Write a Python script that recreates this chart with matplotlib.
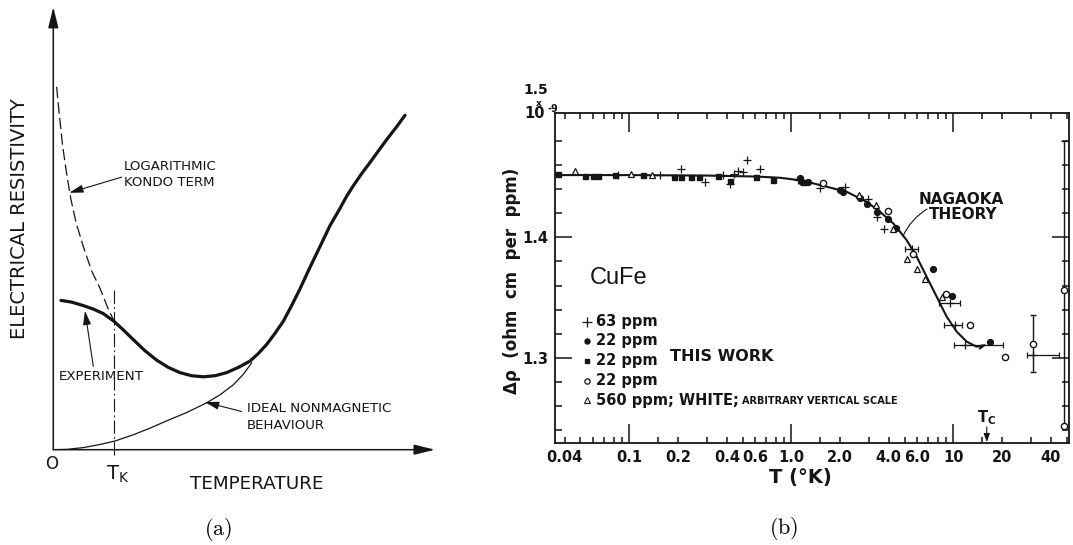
import numpy as np
import matplotlib
matplotlib.use('Agg')
import matplotlib.pyplot as plt

# ---------------- data, panel (a): sketch, arbitrary units ----------------
ideal_x = [0.0, 0.04, 0.09, 0.14, 0.185, 0.24, 0.29, 0.34, 0.40, 0.46, 0.50, 0.54, 0.57, 0.595]
ideal_y = [0.0, 0.001, 0.006, 0.015, 0.025, 0.043, 0.062, 0.083, 0.107, 0.135, 0.158,
           0.187, 0.217, 0.25]

exp_x = [0.023, 0.055, 0.09, 0.12, 0.15, 0.183, 0.21, 0.24, 0.275, 0.31, 0.345, 0.38, 0.415,
         0.45, 0.485, 0.52, 0.555, 0.59, 0.615, 0.64, 0.665, 0.69, 0.715, 0.74, 0.765, 0.79,
         0.81, 0.83, 0.845, 0.86, 0.88, 0.90, 0.925, 0.95, 0.975, 1.00, 1.03, 1.055]
exp_y = [0.43, 0.425, 0.415, 0.405, 0.392, 0.369, 0.345, 0.317, 0.285, 0.258, 0.237, 0.222,
         0.213, 0.21, 0.213, 0.222, 0.237, 0.255, 0.277, 0.303, 0.335, 0.37, 0.415, 0.463,
         0.515, 0.565, 0.605, 0.645, 0.67, 0.695, 0.73, 0.76, 0.795, 0.827, 0.86, 0.893,
         0.93, 0.963]

kondo_x = [0.010, 0.018, 0.028, 0.040, 0.052, 0.068, 0.090, 0.115, 0.140, 0.165, 0.180]
kondo_y = [1.045, 0.965, 0.875, 0.795, 0.725, 0.655, 0.585, 0.515, 0.465, 0.405, 0.375]

tk_x = 0.183

# ---------------- data, panel (b): CuFe resistivity ----------------
theory_T = [0.0348, 0.1, 0.3, 0.6, 0.85, 1.12, 1.37, 2.2, 2.92, 3.53, 4.26, 5.15, 5.94,
            6.85, 7.9, 9.1, 10.5, 12.1, 13.9, 15.6, 14.6]
theory_r = [1.4517, 1.4517, 1.4513, 1.4505, 1.4495, 1.4475, 1.4448, 1.4378, 1.4295, 1.4212,
            1.4116, 1.3978, 1.384, 1.3673, 1.3507, 1.3342, 1.3217, 1.3134, 1.3093, 1.3105, 1.3078]

# 63 ppm (+)
plus_T = [0.085, 0.155, 0.21, 0.294, 0.38, 0.417, 0.44, 0.47, 0.50, 0.532, 0.644, 1.095,
          1.50, 2.14, 2.99, 3.40, 3.75]
plus_r = [1.4515, 1.4517, 1.457, 1.4456, 1.4515, 1.444, 1.453, 1.455, 1.454, 1.464, 1.457,
          1.448, 1.4406, 1.442, 1.4315, 1.4166, 1.4066]
# 63 ppm with temperature error bars
plusbar_T = [5.54, 9.55, 10.2, 11.8, 31.0]
plusbar_r = [1.3905, 1.3453, 1.3273, 1.3107, 1.3024]
plusbar_lo = [5.0, 8.2, 8.77, 10.1, 28.4]
plusbar_hi = [6.05, 11.0, 11.27, 20.4, 45.1]

# 22 ppm (filled circles)
dot_T = [1.13, 1.16, 1.27, 2.0, 2.09, 2.66, 2.94, 3.37, 3.97, 4.41, 7.46, 9.86, 16.9]
dot_r = [1.449, 1.446, 1.446, 1.4392, 1.4378, 1.4328, 1.4276, 1.4212, 1.4149, 1.408,
         1.3737, 1.3513, 1.3129]

# 22 ppm (filled squares)
sq_T = [0.0363, 0.0535, 0.060, 0.064, 0.0816, 0.121, 0.190, 0.210, 0.239, 0.269, 0.351,
        0.417, 0.605, 0.768, 1.20]
sq_r = [1.453, 1.451, 1.451, 1.451, 1.4517, 1.4517, 1.4504, 1.4504, 1.4504, 1.4504, 1.4508,
        1.4467, 1.4503, 1.448, 1.446]

# 22 ppm (open circles)
oc_T = [1.58, 3.97, 5.66, 8.97, 12.6, 20.9, 31.2, 48.5, 48.5]
oc_r = [1.4448, 1.4218, 1.3859, 1.353, 1.3273, 1.3005, 1.3113, 1.3563, 1.243]
ocbar_T = [31.2, 48.5]
ocbar_r = [1.3113, 1.3563]
ocbar_lo = [1.2886, 1.243]
ocbar_hi = [1.3356, 1.48]

# 560 ppm, White (triangles)
tri_T = [0.0464, 0.1026, 0.138, 2.63, 3.33, 4.23, 5.2, 5.94, 6.69, 8.55]
tri_r = [1.455, 1.4525, 1.4517, 1.4351, 1.4268, 1.4066, 1.3818, 1.3737, 1.3652, 1.3507]

tc_T = 16.1

xmajor = [0.1, 1.0, 10.0]
xmajor_labels = ['0.1', '1.0', '10']
xminor = [0.04, 0.05, 0.06, 0.07, 0.08, 0.09, 0.15, 0.2, 0.3, 0.4, 0.5, 0.6, 0.7, 0.8, 0.9,
          1.5, 2, 3, 4, 5, 6, 7, 8, 9, 15, 20, 30, 40, 50]
xminor_labels = {0.04: '0.04', 0.2: '0.2', 0.4: '0.4', 0.6: '0.6', 2: '2.0', 4: '4.0',
                 6: '6.0', 20: '20', 40: '40'}
ymajor = [1.3, 1.4]
yminor = [1.24, 1.26, 1.28, 1.32, 1.34, 1.36, 1.38, 1.42, 1.44, 1.46, 1.48]

ink = '#151515'
W, H = 1073, 545

fig = plt.figure(figsize=(W / 100, H / 100), dpi=100)

# ====================== panel (a) ======================
# origin at (53.3, 449.7) px; 1 unit = 333 px across, 347 px up
axa = fig.add_axes([53.3 / W, (H - 449.7) / H, 400 / W, 451.4 / H])
axa.set_xlim(0, 1.2)
axa.set_ylim(0, 1.3)
axa.axis('off')

arrow = dict(arrowstyle='-|>,head_length=0.9,head_width=0.22', lw=1.1, color=ink,
             shrinkA=0, shrinkB=0, mutation_scale=14)
axa.annotate('', xy=(1.145, 0), xytext=(0, 0), arrowprops=arrow, annotation_clip=False)
axa.annotate('', xy=(0, 1.275), xytext=(0, 0), arrowprops=arrow, annotation_clip=False)

axa.plot(ideal_x, ideal_y, color=ink, lw=0.9)
axa.plot(exp_x, exp_y, color=ink, lw=2.3, solid_capstyle='round', solid_joinstyle='round')
axa.plot(kondo_x, kondo_y, color=ink, lw=0.9, linestyle=(0, (9, 3.5)))
axa.plot([tk_x, tk_x], [-0.015, 0.46], color=ink, lw=0.8, linestyle=(0, (12, 3, 1.5, 3)),
         clip_on=False)

small = dict(color=ink, fontsize=9.6, family='DejaVu Sans')
axa.text(0.212, 0.815, 'LOGARITHMIC', va='center', **small)
axa.text(0.212, 0.770, 'KONDO TERM', va='center', **small)
axa.text(0.015, 0.21, 'EXPERIMENT', va='center', **small)
axa.text(0.58, 0.12, 'IDEAL NONMAGNETIC', va='center', **small)
axa.text(0.58, 0.07, 'BEHAVIOUR', va='center', **small)

thin = dict(arrowstyle='-|>,head_length=0.7,head_width=0.2', lw=0.8, color=ink,
            shrinkA=0, shrinkB=0, mutation_scale=12)
axa.annotate('', xy=(0.048, 0.74), xytext=(0.205, 0.785), arrowprops=thin)
axa.annotate('', xy=(0.095, 0.40), xytext=(0.12, 0.24), arrowprops=thin)
axa.annotate('', xy=(0.455, 0.137), xytext=(0.565, 0.11), arrowprops=thin)

axa.text(-0.10, 0.665, 'ELECTRICAL RESISTIVITY', rotation=90, ha='center', va='center',
         color=ink, fontsize=14, clip_on=False)
axa.text(-0.005, -0.04, 'O', ha='center', va='center', color=ink, fontsize=12, clip_on=False)
axa.text(tk_x + 0.01, -0.072, r'$\mathregular{T_K}$', ha='center', va='center', color=ink,
         fontsize=14, clip_on=False)
axa.text(0.61, -0.099, 'TEMPERATURE', ha='center', va='center', color=ink, fontsize=13.2,
         clip_on=False)
axa.text(0.495, -0.23, r'$\mathrm{(a)}$', ha='center', va='center', fontsize=16,
         math_fontfamily='cm', clip_on=False)

# ====================== panel (b) ======================
axb = fig.add_axes([555 / W, (H - 443.3) / H, 514 / W, 330 / H])
axb.set_xscale('log')
axb.set_xlim(0.0348, 51.8)
axb.set_ylim(1.229, 1.503)
for s in axb.spines.values():
    s.set_linewidth(1.3)
    s.set_color(ink)

bold = dict(family='DejaVu Sans', weight='bold', color=ink)

axb.set_xticks(xmajor, xmajor_labels)
axb.set_xticks(xminor, [xminor_labels.get(v, '') for v in xminor], minor=True)
axb.set_yticks(ymajor, ['1.3', '1.4'])
axb.set_yticks(yminor, minor=True)
axb.tick_params(which='both', direction='in', top=True, right=True, color=ink, width=1.1,
                labelsize=10.5, labelcolor=ink)
axb.tick_params(axis='x', which='major', length=14, pad=5)
axb.tick_params(axis='x', which='minor', length=4, pad=5)
axb.tick_params(axis='y', which='major', length=12, pad=5)
axb.tick_params(axis='y', which='minor', length=5)
for lab in axb.get_xticklabels(which='both') + axb.get_yticklabels():
    lab.set_fontweight('bold')

# theory curve
axb.plot(theory_T, theory_r, color=ink, lw=1.5, zorder=2)

# data
axb.plot(plus_T, plus_r, '+', color=ink, ms=6, mew=0.9, zorder=3)
axb.errorbar(plusbar_T, plusbar_r,
             xerr=[np.subtract(plusbar_T, plusbar_lo), np.subtract(plusbar_hi, plusbar_T)],
             fmt='+', color=ink, ms=6, mew=0.9, elinewidth=0.9, capsize=2.5, zorder=3)
axb.plot(dot_T, dot_r, 'o', color=ink, ms=4.2, zorder=4)
axb.plot(sq_T, sq_r, 's', color=ink, ms=3.6, zorder=4)
axb.errorbar(ocbar_T, ocbar_r,
             yerr=[np.subtract(ocbar_r, ocbar_lo), np.subtract(ocbar_hi, ocbar_r)],
             fmt='none', ecolor=ink, elinewidth=1.0, capsize=2.5, zorder=3)
axb.plot(oc_T, oc_r, 'o', mfc='white', mec=ink, mew=1.0, ms=4.5, zorder=5, clip_on=False)
axb.plot(tri_T, tri_r, '^', mfc='white', mec=ink, mew=0.9, ms=4.8, zorder=5)

# labels in the plot
axb.text(0.79, 0.740, 'NAGAOKA', transform=axb.transAxes, ha='center', va='center',
         fontsize=11, **bold)
axb.text(0.795, 0.692, 'THEORY', transform=axb.transAxes, ha='center', va='center',
         fontsize=11, **bold)
axb.annotate('', xy=(4.89, 1.401), xytext=(6.88, 1.4235),
             arrowprops=dict(arrowstyle='-', lw=0.8, color=ink, shrinkA=0, shrinkB=0,
                             connectionstyle='arc3,rad=0.15'))

axb.text(tc_T, 1.2505, r'$\mathbf{T_C}$', ha='center', va='center', fontsize=10.5,
         math_fontfamily='dejavusans', color=ink)
axb.annotate('', xy=(tc_T, 1.2300), xytext=(tc_T, 1.2425),
             arrowprops=dict(arrowstyle='-|>,head_length=0.5,head_width=0.18', lw=0.8,
                             color=ink, shrinkA=0, shrinkB=0, mutation_scale=10))

axb.text(0.0681, 0.4994, 'CuFe', transform=axb.transAxes, ha='left', va='center',
         fontsize=17, family='Liberation Sans', color=ink)

# key
key_y = [0.3685, 0.31, 0.2494, 0.1897, 0.1312]
key_txt = ['63 ppm', '22 ppm', '22 ppm', '22 ppm', '560 ppm; WHITE;']
key_mk = [dict(marker='+', color=ink, ms=7, mew=0.9),
          dict(marker='o', color=ink, ms=3.6),
          dict(marker='s', color=ink, ms=3.2),
          dict(marker='o', mfc='white', mec=ink, mew=0.9, ms=3.8),
          dict(marker='^', mfc='white', mec=ink, mew=0.8, ms=3.8)]
for yy, tt, mk in zip(key_y, key_txt, key_mk):
    axb.plot([0.0617], [yy], transform=axb.transAxes, linestyle='none', **mk)
    axb.text(0.0798, yy, tt, transform=axb.transAxes, ha='left', va='center',
             fontsize=10.5, **bold)
axb.text(0.3638, 0.128, 'ARBITRARY VERTICAL SCALE', transform=axb.transAxes, ha='left',
         va='center', fontsize=7, **bold)
axb.text(0.2237, 0.2624, 'THIS WORK', transform=axb.transAxes, ha='left', va='center',
         fontsize=11.5, **bold)

# axis labels
axb.text(-0.0837, 0.4918, 'Δρ  (ohm  cm  per  ppm)', transform=axb.transAxes,
         rotation=90, ha='center', va='center', fontsize=12, **bold)
axb.text(0.478, -0.105, 'T (°K)', transform=axb.transAxes, ha='center', va='center',
         fontsize=14, **bold)

# 1.5 x 10^-9 at the top of the scale
fig.text(536 / W, 1 - 90 / H, '1.5', ha='center', va='center', fontsize=10, **bold)
fig.text(539 / W, 1 - 103.5 / H, 'x', ha='center', va='center', fontsize=6.5, **bold)
fig.text(535 / W, 1 - 114 / H, '10', ha='center', va='center', fontsize=10.5, **bold)
fig.text(548 / W, 1 - 108.5 / H, '-9', ha='left', va='center', fontsize=7, **bold)

fig.text(784 / W, 1 - 529 / H, r'$\mathrm{(b)}$', ha='center', va='center', fontsize=16,
         math_fontfamily='cm')

fig.savefig('out.png', dpi=100)
